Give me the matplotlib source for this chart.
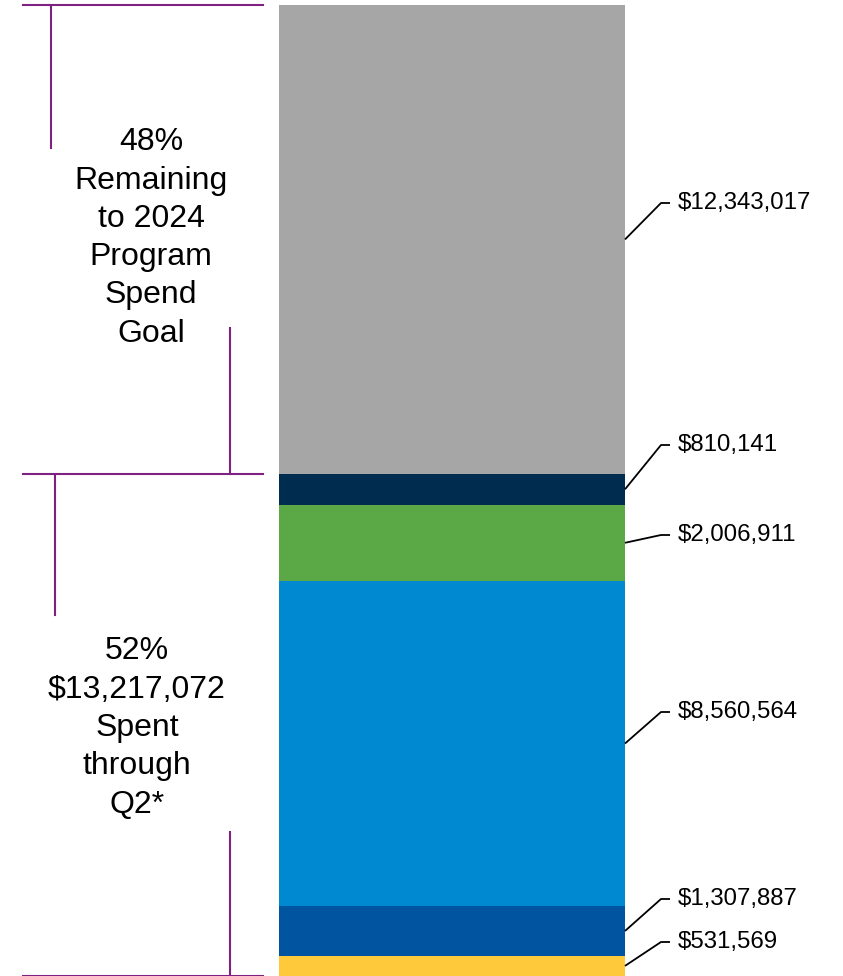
import matplotlib
matplotlib.use("Agg")
import matplotlib.pyplot as plt

plt.rcParams['font.family'] = ['Liberation Sans', 'DejaVu Sans']

# Data (bottom to top)
segments = ["Segment A", "Segment B", "Segment C", "Segment D", "Segment E", "Remaining"]
values = [531569, 1307887, 8560564, 2006911, 810141, 12343017]
labels = ["$531,569", "$1,307,887", "$8,560,564", "$2,006,911", "$810,141", "$12,343,017"]
colors = ["#FFC93C", "#0054A0", "#0088D1", "#5AA846", "#002D4F", "#A6A6A6"]
top_text = "48%\nRemaining\nto 2024\nProgram\nSpend\nGoal"
bottom_text = "52%\n$13,217,072\nSpent\nthrough\nQ2*"

W, H = 843, 976
fig = plt.figure(figsize=(W / 100, H / 100), dpi=100)
ax = fig.add_axes([0, 0, 1, 1])
total = sum(values)
spent = sum(values[:-1])
ymax = total * H / 971.0
ax.set_xlim(0, W)
ax.set_ylim(0, ymax)
ax.axis("off")

def py(p):
    """pixel row (from top) -> data y"""
    return (H - p) / H * ymax

# Bars
bottom = 0
mids = []
for v, c in zip(values, colors):
    ax.bar(452, v, width=346, bottom=bottom, color=c, edgecolor="none")
    mids.append(bottom + v / 2)
    bottom += v

# Leader lines and labels
label_rows = [942, 899, 712, 535, 445, 203]
for mid, lab, row in zip(mids, labels, label_rows):
    ly = py(row)
    ax.plot([625, 661, 670], [mid, ly, ly], color="black", lw=1.3, solid_capstyle="butt")
    ax.text(678, ly, lab, fontsize=17.3, ha="left", va="center", color="black")

# Brackets
pc = "#7E2180"
lw = 1.5
for yv in [total, spent, 0]:
    ax.plot([23, 263], [yv, yv], color=pc, lw=lw)
ax.plot([51, 51], [total, py(148)], color=pc, lw=lw)
ax.plot([230, 230], [py(328), spent], color=pc, lw=lw)
ax.plot([55, 55], [py(476), py(615)], color=pc, lw=lw)
ax.plot([230, 230], [py(832), 0], color=pc, lw=lw)

ax.text(151, py(238), top_text, fontsize=23, ha="center", va="center",
        linespacing=1.36, color="black")
ax.text(137, py(728), bottom_text, fontsize=23, ha="center", va="center",
        linespacing=1.36, color="black")

fig.savefig("out.png", dpi=100)
